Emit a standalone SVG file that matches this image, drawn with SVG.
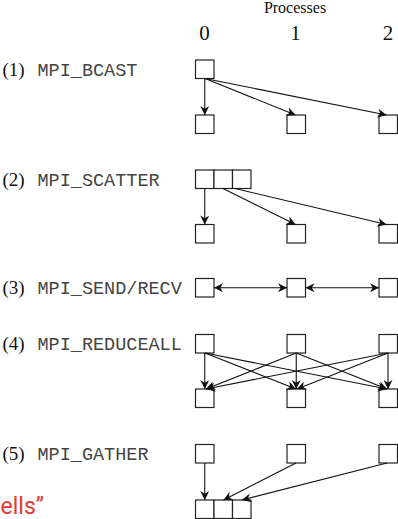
<svg xmlns="http://www.w3.org/2000/svg" width="398" height="519" viewBox="0 0 398 519">
<style>
.bx{fill:#fff;stroke:#222;stroke-width:1.2}
.ln{fill:none;stroke:#111;stroke-width:1.1;marker-end:url(#ah)}
.dl{fill:none;stroke:#111;stroke-width:1.1;marker-end:url(#ah);marker-start:url(#ah)}
.hd{font-family:"Liberation Serif","Times New Roman",serif;fill:#111}
.num{font-family:"Liberation Serif","Times New Roman",serif;font-size:19px;fill:#111}
.mono{font-family:"Liberation Mono","Courier New",monospace;font-size:18.5px;fill:#444}
</style>
<defs>
<marker id="ah" viewBox="0 0 10 10" refX="10" refY="5" markerWidth="10" markerHeight="9" markerUnits="userSpaceOnUse" orient="auto-start-reverse">
<path d="M0,0 L10,5 L0,10 L3,5 z" fill="#111"/>
</marker>
</defs>
<rect width="398" height="519" fill="#fff"/>
<g id="header">
<text class="hd" x="295" y="13" font-size="16" text-anchor="middle">Processes</text>
<text class="hd" x="204.5" y="40" font-size="21" text-anchor="middle">0</text>
<text class="hd" x="295.5" y="40" font-size="21" text-anchor="middle">1</text>
<text class="hd" x="388" y="40" font-size="21" text-anchor="middle">2</text>
</g>
<g id="labels">
<text class="num" x="2.5" y="76">(1)</text><text class="mono" x="37.5" y="76">MPI_BCAST</text>
<text class="num" x="2.5" y="185.5">(2)</text><text class="mono" x="37.5" y="185.5">MPI_SCATTER</text>
<text class="num" x="2.5" y="294">(3)</text><text class="mono" x="37.5" y="294">MPI_SEND/RECV</text>
<text class="num" x="2.5" y="350">(4)</text><text class="mono" x="37.5" y="350">MPI_REDUCEALL</text>
<text class="num" x="2.5" y="460">(5)</text><text class="mono" x="37.5" y="460">MPI_GATHER</text>
</g>
<g id="bcast">
<rect class="bx" x="195.5" y="60" width="18.5" height="18.5"/>
<rect class="bx" x="195.5" y="115" width="18.5" height="18.5"/>
<rect class="bx" x="287" y="115" width="18.5" height="18.5"/>
<rect class="bx" x="379" y="115" width="18.5" height="18.5"/>
</g>
<g id="scatter">
<rect class="bx" x="195.5" y="170" width="18.5" height="18.5"/>
<rect class="bx" x="214" y="170" width="18.5" height="18.5"/>
<rect class="bx" x="232.5" y="170" width="18.5" height="18.5"/>
<rect class="bx" x="195.5" y="224.5" width="18.5" height="18.5"/>
<rect class="bx" x="287" y="224.5" width="18.5" height="18.5"/>
<rect class="bx" x="379" y="224.5" width="18.5" height="18.5"/>
</g>
<g id="sendrecv">
<rect class="bx" x="195.5" y="278.5" width="18.5" height="18.5"/>
<rect class="bx" x="287" y="278.5" width="18.5" height="18.5"/>
<rect class="bx" x="379" y="278.5" width="18.5" height="18.5"/>
</g>
<g id="reduceall">
<rect class="bx" x="195.5" y="334.5" width="18.5" height="18.5"/>
<rect class="bx" x="287" y="334.5" width="18.5" height="18.5"/>
<rect class="bx" x="379" y="334.5" width="18.5" height="18.5"/>
<rect class="bx" x="195.5" y="389" width="18.5" height="18.5"/>
<rect class="bx" x="287" y="389" width="18.5" height="18.5"/>
<rect class="bx" x="379" y="389" width="18.5" height="18.5"/>
</g>
<g id="gather">
<rect class="bx" x="195.5" y="444.5" width="18.5" height="18.5"/>
<rect class="bx" x="287" y="444.5" width="18.5" height="18.5"/>
<rect class="bx" x="379" y="444.5" width="18.5" height="18.5"/>
<rect class="bx" x="195.5" y="500" width="18.5" height="18.5"/>
<rect class="bx" x="214" y="500" width="18.5" height="18.5"/>
<rect class="bx" x="232.5" y="500" width="18.5" height="18.5"/>
</g>
<g id="connectors">
<line class="ln" x1="204.75" y1="78.5" x2="204.75" y2="115"/>
<line class="ln" x1="205" y1="78.5" x2="295.5" y2="115"/>
<line class="ln" x1="205" y1="78.5" x2="386.5" y2="115"/>
<line class="ln" x1="204.75" y1="188.5" x2="204.75" y2="224.5"/>
<line class="ln" x1="223" y1="188.5" x2="295.5" y2="224.5"/>
<line class="ln" x1="235" y1="188.5" x2="386.5" y2="224.5"/>
<line class="dl" x1="214" y1="287.75" x2="287" y2="287.75"/>
<line class="dl" x1="305.5" y1="287.75" x2="379" y2="287.75"/>
<line class="ln" x1="204.75" y1="353" x2="204.75" y2="389"/>
<line class="ln" x1="205" y1="353" x2="296" y2="389"/>
<line class="ln" x1="205" y1="353" x2="387" y2="389"/>
<line class="ln" x1="296.25" y1="353" x2="206" y2="389"/>
<line class="ln" x1="296.25" y1="353" x2="296.25" y2="389"/>
<line class="ln" x1="296.25" y1="353" x2="387" y2="389"/>
<line class="ln" x1="388" y1="353" x2="206" y2="389"/>
<line class="ln" x1="388" y1="353" x2="297" y2="389"/>
<line class="ln" x1="388" y1="353" x2="388" y2="389"/>
<line class="ln" x1="204.75" y1="463" x2="204.75" y2="500"/>
<line class="ln" x1="296" y1="463" x2="223.5" y2="500"/>
<line class="ln" x1="387" y1="463" x2="242" y2="500"/>
</g>
<g id="caption">
<text x="0.5" y="514" font-family="Roboto,'Noto Sans',sans-serif" font-size="23" fill="#e53935">ells”</text>
</g>
</svg>
